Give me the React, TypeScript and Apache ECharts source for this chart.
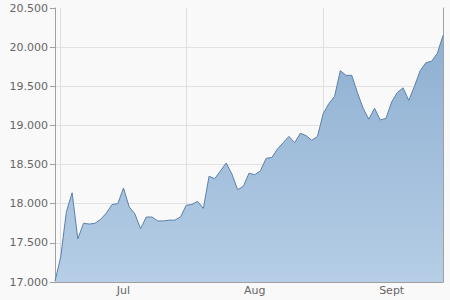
import React, { useEffect, useRef } from "react";
import * as echarts from "echarts";

const values: number[] = [
  17.01, 17.32, 17.9, 18.14, 17.55, 17.75, 17.74, 17.75, 17.8, 17.88,
  17.99, 18.0, 18.2, 17.96, 17.87, 17.68, 17.83, 17.83, 17.78, 17.78,
  17.79, 17.79, 17.83, 17.98, 17.99, 18.03, 17.94, 18.35, 18.32, 18.42,
  18.52, 18.38, 18.18, 18.22, 18.39, 18.37, 18.42, 18.58, 18.59, 18.7,
  18.78, 18.86, 18.78, 18.9, 18.87, 18.81, 18.86, 19.15, 19.28, 19.37,
  19.7, 19.64, 19.64, 19.42, 19.22, 19.08, 19.22, 19.07, 19.09, 19.3,
  19.42, 19.48, 19.32, 19.5, 19.7, 19.8, 19.82, 19.92, 20.15,
];
const categories: string[] = values.map((_, i) => String(i));
const monthStarts: number[] = [1, 23, 47];
const monthLabelIdx: number[] = [12, 35, 59];
const monthNames: string[] = ["Jul", "Aug", "Sept"];
const yMin = 17;
const yMax = 20.5;
const yStep = 0.5;

export default function App() {
  const ref = useRef<HTMLDivElement>(null);
  useEffect(() => {
    if (!ref.current) return;
    const chart = echarts.init(ref.current, undefined, { renderer: "svg" });
    const font = "DejaVu Sans";
    chart.setOption({
      animation: false,
      backgroundColor: "#f9f9f9",
      grid: { left: 55, right: 7, top: 8, bottom: 18, containLabel: false },
      xAxis: {
        type: "category",
        data: categories,
        boundaryGap: false,
        axisLine: { show: true, lineStyle: { color: "#a0a0a0", width: 1 } },
        axisTick: { show: false },
        axisLabel: {
          interval: (i: number) => monthLabelIdx.includes(i),
          formatter: (_v: string, i: number) => {
            const k = monthLabelIdx.indexOf(i);
            return k >= 0 ? monthNames[k] : "";
          },
          color: "#666",
          fontSize: 11,
          fontFamily: font,
          margin: 3,
        },
        splitLine: {
          show: true,
          interval: (i: number) => monthStarts.includes(i),
          lineStyle: { color: "#dedede", width: 1 },
        },
      },
      yAxis: [
        {
          type: "value",
          min: yMin,
          max: yMax,
          interval: yStep,
          axisLine: { show: true, lineStyle: { color: "#a0a0a0", width: 1 } },
          axisTick: { show: true, length: 5, lineStyle: { color: "#a0a0a0" } },
          axisLabel: {
            formatter: (v: number) => v.toFixed(3),
            color: "#666",
            fontSize: 11,
            fontFamily: font,
            margin: 7,
          },
          splitLine: { show: true, showMaxLine: false, lineStyle: { color: "#e2e2e2", width: 1 } },
        },
        {
          type: "value",
          position: "right",
          min: yMin,
          max: yMax,
          interval: yStep,
          axisLine: { show: true, lineStyle: { color: "#a0a0a0", width: 1 } },
          axisTick: { show: false },
          axisLabel: { show: false },
          splitLine: { show: false },
        },
      ],
      series: [
        {
          type: "line",
          data: values,
          yAxisIndex: 0,
          symbol: "none",
          lineStyle: { color: "#5b80aa", width: 1 },
          areaStyle: {
            origin: "start",
            opacity: 1,
            color: new echarts.graphic.LinearGradient(0, 8, 0, 282, [
              { offset: 0, color: "#8aaccf" },
              { offset: 1, color: "#b6cee6" },
            ], true),
          },
        },
      ],
    });
    return () => chart.dispose();
  }, []);
  return <div ref={ref} style={{ width: 450, height: 300, position: "absolute", left: 0, top: 0 }} />;
}
